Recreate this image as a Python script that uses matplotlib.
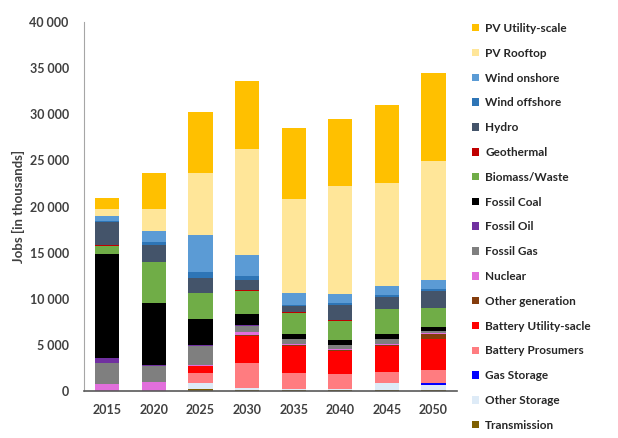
import numpy as np
import matplotlib
matplotlib.use("Agg")
import matplotlib.pyplot as plt
from matplotlib.ticker import FuncFormatter

years = ["2015", "2020", "2025", "2030", "2035", "2040", "2045", "2050"]

# jobs per technology, stacked bottom -> top
transmission  = [0, 0, 250, 150, 100, 100, 100, 100]
other_storage = [0, 0, 600, 150, 100, 100, 800, 600]
gas_storage   = [0, 0, 0, 0, 0, 0, 0, 200]
batt_pros     = [0, 0, 1100, 2700, 1800, 1700, 1200, 1400]
batt_util     = [0, 0, 800, 3000, 2900, 2500, 2800, 3400]
other_gen     = [0, 0, 0, 100, 100, 100, 100, 500]
nuclear       = [800, 1000, 100, 300, 100, 100, 100, 100]
fossil_gas    = [2200, 1700, 2000, 700, 500, 400, 500, 200]
fossil_oil    = [550, 100, 100, 100, 50, 50, 50, 50]
fossil_coal   = [11300, 6700, 2900, 1200, 550, 500, 550, 450]
biomass       = [900, 4500, 2800, 2500, 2300, 2100, 2700, 2000]
geothermal    = [30, 30, 30, 30, 30, 30, 30, 30]
hydro         = [2500, 1800, 1600, 1100, 650, 1700, 1300, 1850]
wind_off      = [200, 300, 600, 400, 200, 150, 150, 150]
wind_on       = [500, 1200, 4000, 2300, 1250, 1000, 1000, 1000]
pv_roof       = [800, 2400, 6700, 11550, 10200, 11700, 11200, 12850]
pv_util       = [1100, 3850, 6700, 7350, 7700, 7250, 8450, 9600]

series = [
    ("Transmission", transmission, "#7F6000"),
    ("Other Storage", other_storage, "#DEEBF7"),
    ("Gas Storage", gas_storage, "#0000FF"),
    ("Battery Prosumers", batt_pros, "#FF7C80"),
    ("Battery Utility-sacle", batt_util, "#FF0000"),
    ("Other generation", other_gen, "#843C0C"),
    ("Nuclear", nuclear, "#E26FDC"),
    ("Fossil Gas", fossil_gas, "#7F7F7F"),
    ("Fossil Oil", fossil_oil, "#7030A0"),
    ("Fossil Coal", fossil_coal, "#000000"),
    ("Biomass/Waste", biomass, "#70AD47"),
    ("Geothermal", geothermal, "#C00000"),
    ("Hydro", hydro, "#44546A"),
    ("Wind offshore", wind_off, "#2E75B6"),
    ("Wind onshore", wind_on, "#5B9BD5"),
    ("PV Rooftop", pv_roof, "#FFE699"),
    ("PV Utility-scale", pv_util, "#FFC000"),
]

plt.rcParams['font.family'] = ['Lato', 'DejaVu Sans']

fig = plt.figure(figsize=(6.18, 4.38), dpi=100)
ax = fig.add_axes([0.136, 0.107, 0.603, 0.843])

x = np.arange(len(years))
bottom = np.zeros(len(years))
handles = []
for name, vals, col in series:
    b = ax.bar(x, vals, 0.52, bottom=bottom, color=col, label=name)
    bottom += np.array(vals)
    handles.append(b)

ax.set_xlim(-0.5, len(years) - 0.5)
ax.set_ylim(0, 40000)
ax.set_yticks(np.arange(0, 40001, 5000))
ax.yaxis.set_major_formatter(FuncFormatter(lambda v, p: f"{int(v):,}".replace(",", " ")))
ax.set_xticks(x)
ax.set_xticklabels(years)
ax.tick_params(axis='both', length=0, labelsize=9, labelcolor="#404040")
ax.tick_params(axis='y', pad=11)
ax.tick_params(axis='x', pad=9)
for lab in ax.get_xticklabels() + ax.get_yticklabels():
    lab.set_fontweight("bold")

for s in ["top", "right"]:
    ax.spines[s].set_visible(False)
ax.spines["left"].set_color("#A6A6A6")
ax.spines["bottom"].set_color("#595959")
ax.spines["bottom"].set_linewidth(1.2)

ax.set_ylabel("Jobs [in thousands]", fontsize=9.5, fontweight="bold", color="#404040", labelpad=3)

fig.legend(handles[::-1], [s[0] for s in series][::-1], loc="upper left",
           bbox_to_anchor=(0.747, 0.972), frameon=False,
           prop={"weight": "bold", "size": 8.5}, labelspacing=1.17,
           handlelength=0.6, handleheight=0.6, handletextpad=0.5,
           labelcolor="#262626")

fig.savefig("out.png", dpi=100)
